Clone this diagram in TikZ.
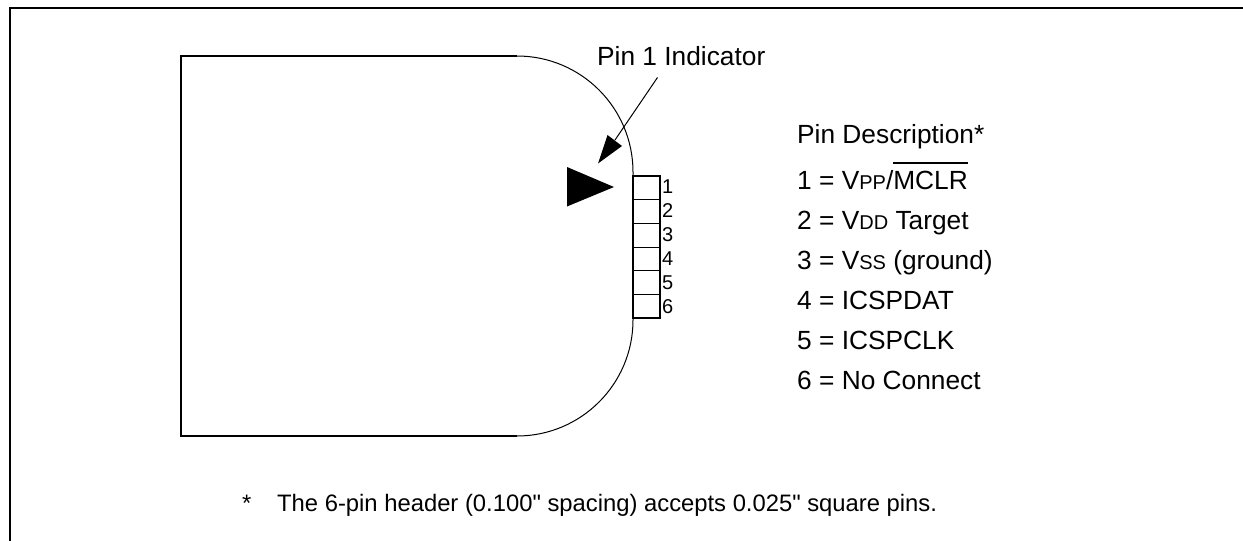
\documentclass[tikz,border=0pt]{standalone}
\usepackage{fontspec}
\setmainfont{Liberation Sans}
\newfontfamily\plainf{Liberation Sans}
\newsavebox{\ovlsave}
\newcommand{\ovlbar}[1]{\leavevmode\sbox{\ovlsave}{#1}\rlap{\raisebox{24.6pt}{\vrule width \wd\ovlsave height 2pt depth 0pt}}\usebox{\ovlsave}}
\tikzset{
  x=1pt,y=-1pt,
  frameline/.style={line width=2pt},
  bodyline/.style={line width=1.7pt},
  arcline/.style={line width=1pt},
  pinbox/.style={draw,line width=1.1pt,minimum width=27pt,minimum height=23.7pt,inner sep=0pt,outer sep=0pt,anchor=north west},
  pinframe/.style={line width=1.7pt},
  pinnum/.style={anchor=base west,inner sep=0pt,font=\fontsize{20}{22}\selectfont},
  txt/.style={anchor=base west,inner sep=0pt,font=\fontsize{26.3}{30}\selectfont},
  notetxt/.style={anchor=base west,inner sep=0pt,font=\plainf\fontsize{23.8}{28}\selectfont}
}
\newcommand{\smc}[1]{{\fontsize{20}{22}\selectfont #1}}
\begin{document}
\begin{tikzpicture}
\useasboundingbox (0,0) rectangle (1243,541);
\draw[frameline] (10,541) -- (10,8) -- (1243,8);
% board
\coordinate (bl) at (181,436);
\coordinate (tl) at (181,56);
\coordinate (at) at (517,56);
\coordinate (ab) at (517,436);
\coordinate (rb) at (633,320);
\draw[bodyline] (at) -- (tl) -- (bl) -- (ab);
\draw[arcline] (at) arc[start angle=90,end angle=0,radius=116pt] -- (rb) arc[start angle=0,end angle=-90,radius=116pt];
% header
\foreach \i/\y in {1/176,2/199.7,3/223.4,4/247.1,5/270.8,6/294.5}{
  \node[pinbox] (p\i) at (633,\y) {};
}
\draw[pinframe] (p1.north west) rectangle (p6.south east);
\foreach \i/\y in {1/193,2/217,3/241,4/265,5/289,6/313}{
  \node[pinnum] (n\i) at (662,\y) {\i};
}
% indicator
\fill (567,167) -- (614,187) -- (567,206.5) -- cycle;
\node[txt] (ind) at (597,65) {Pin 1 Indicator};
\coordinate (from) at (657.5,77.5);
\coordinate (tip) at (598,163.5);
\draw[line width=1pt] (from) -- (615,140);
\fill (tip) -- (607.5,135) -- (622,146) -- cycle;
% description
\node[txt] (d0) at (797,143) {Pin Description*};
\node[txt] (d1) at (797,189) {1 = V\smc{PP}/\ovlbar{MCLR}};
\node[txt] (d2) at (797,229) {2 = V\smc{DD} Target};
\node[txt] (d3) at (797,269) {3 = V\smc{SS} (ground)};
\node[txt] (d4) at (797,309) {4 = ICSPDAT};
\node[txt] (d5) at (797,349) {5 = ICSPCLK};
\node[txt] (d6) at (797,389) {6 = No Connect};
\node[notetxt] (s) at (242,511) {*};
\node[notetxt] (note) at (277,511) {The 6-pin header (0.100" spacing) accepts 0.025" square pins.};
\end{tikzpicture}
\end{document}
